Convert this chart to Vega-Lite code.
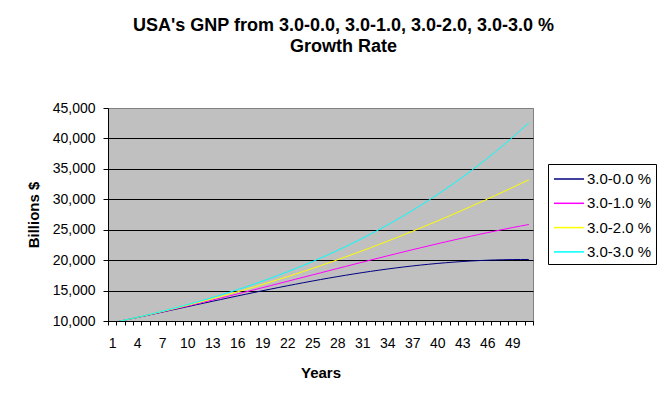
{
  "$schema": "https://vega.github.io/schema/vega-lite/v6.json",
  "autosize": {"type": "none"},
  "width": 425,
  "height": 213,
  "padding": {"left": 108, "top": 108, "right": 125, "bottom": 74},
  "background": "white",
  "title": {
    "text": ["USA's GNP from 3.0-0.0, 3.0-1.0, 3.0-2.0, 3.0-3.0 %", "Growth Rate"],
    "font": "Liberation Sans",
    "fontSize": 18,
    "fontWeight": "bold",
    "color": "black",
    "anchor": "middle",
    "frame": "group",
    "dx": 23,
    "lineHeight": 21.6,
    "offset": 44.5
  },
  "config": {
    "font": "Liberation Sans",
    "view": {"fill": "#C0C0C0", "stroke": "#808080", "strokeWidth": 1}
  },
  "data": {
    "values": [
      {"year": 1, "series": "3.0-0.0 %", "gnp": 9710}, {"year": 2, "series": "3.0-0.0 %", "gnp": 9996}, {"year": 3, "series": "3.0-0.0 %", "gnp": 10283}, {"year": 4, "series": "3.0-0.0 %", "gnp": 10573}, {"year": 5, "series": "3.0-0.0 %", "gnp": 10865}, {"year": 6, "series": "3.0-0.0 %", "gnp": 11159}, {"year": 7, "series": "3.0-0.0 %", "gnp": 11453}, {"year": 8, "series": "3.0-0.0 %", "gnp": 11749}, {"year": 9, "series": "3.0-0.0 %", "gnp": 12045}, {"year": 10, "series": "3.0-0.0 %", "gnp": 12341},
      {"year": 11, "series": "3.0-0.0 %", "gnp": 12637}, {"year": 12, "series": "3.0-0.0 %", "gnp": 12933}, {"year": 13, "series": "3.0-0.0 %", "gnp": 13228}, {"year": 14, "series": "3.0-0.0 %", "gnp": 13522}, {"year": 15, "series": "3.0-0.0 %", "gnp": 13814}, {"year": 16, "series": "3.0-0.0 %", "gnp": 14104}, {"year": 17, "series": "3.0-0.0 %", "gnp": 14392}, {"year": 18, "series": "3.0-0.0 %", "gnp": 14677}, {"year": 19, "series": "3.0-0.0 %", "gnp": 14958}, {"year": 20, "series": "3.0-0.0 %", "gnp": 15237},
      {"year": 21, "series": "3.0-0.0 %", "gnp": 15511}, {"year": 22, "series": "3.0-0.0 %", "gnp": 15781}, {"year": 23, "series": "3.0-0.0 %", "gnp": 16046}, {"year": 24, "series": "3.0-0.0 %", "gnp": 16306}, {"year": 25, "series": "3.0-0.0 %", "gnp": 16560}, {"year": 26, "series": "3.0-0.0 %", "gnp": 16809}, {"year": 27, "series": "3.0-0.0 %", "gnp": 17051}, {"year": 28, "series": "3.0-0.0 %", "gnp": 17286}, {"year": 29, "series": "3.0-0.0 %", "gnp": 17514}, {"year": 30, "series": "3.0-0.0 %", "gnp": 17735},
      {"year": 31, "series": "3.0-0.0 %", "gnp": 17948}, {"year": 32, "series": "3.0-0.0 %", "gnp": 18152}, {"year": 33, "series": "3.0-0.0 %", "gnp": 18348}, {"year": 34, "series": "3.0-0.0 %", "gnp": 18535}, {"year": 35, "series": "3.0-0.0 %", "gnp": 18713}, {"year": 36, "series": "3.0-0.0 %", "gnp": 18882}, {"year": 37, "series": "3.0-0.0 %", "gnp": 19040}, {"year": 38, "series": "3.0-0.0 %", "gnp": 19189}, {"year": 39, "series": "3.0-0.0 %", "gnp": 19327}, {"year": 40, "series": "3.0-0.0 %", "gnp": 19455},
      {"year": 41, "series": "3.0-0.0 %", "gnp": 19571}, {"year": 42, "series": "3.0-0.0 %", "gnp": 19677}, {"year": 43, "series": "3.0-0.0 %", "gnp": 19771}, {"year": 44, "series": "3.0-0.0 %", "gnp": 19854}, {"year": 45, "series": "3.0-0.0 %", "gnp": 19926}, {"year": 46, "series": "3.0-0.0 %", "gnp": 19986}, {"year": 47, "series": "3.0-0.0 %", "gnp": 20034}, {"year": 48, "series": "3.0-0.0 %", "gnp": 20070}, {"year": 49, "series": "3.0-0.0 %", "gnp": 20094}, {"year": 50, "series": "3.0-0.0 %", "gnp": 20106},
      {"year": 51, "series": "3.0-0.0 %", "gnp": 20106},

      {"year": 1, "series": "3.0-1.0 %", "gnp": 9710}, {"year": 2, "series": "3.0-1.0 %", "gnp": 9997}, {"year": 3, "series": "3.0-1.0 %", "gnp": 10289}, {"year": 4, "series": "3.0-1.0 %", "gnp": 10586}, {"year": 5, "series": "3.0-1.0 %", "gnp": 10886}, {"year": 6, "series": "3.0-1.0 %", "gnp": 11191}, {"year": 7, "series": "3.0-1.0 %", "gnp": 11500}, {"year": 8, "series": "3.0-1.0 %", "gnp": 11813}, {"year": 9, "series": "3.0-1.0 %", "gnp": 12129}, {"year": 10, "series": "3.0-1.0 %", "gnp": 12450},
      {"year": 11, "series": "3.0-1.0 %", "gnp": 12773}, {"year": 12, "series": "3.0-1.0 %", "gnp": 13100}, {"year": 13, "series": "3.0-1.0 %", "gnp": 13430}, {"year": 14, "series": "3.0-1.0 %", "gnp": 13763}, {"year": 15, "series": "3.0-1.0 %", "gnp": 14099}, {"year": 16, "series": "3.0-1.0 %", "gnp": 14438}, {"year": 17, "series": "3.0-1.0 %", "gnp": 14778}, {"year": 18, "series": "3.0-1.0 %", "gnp": 15121}, {"year": 19, "series": "3.0-1.0 %", "gnp": 15466}, {"year": 20, "series": "3.0-1.0 %", "gnp": 15812},
      {"year": 21, "series": "3.0-1.0 %", "gnp": 16160}, {"year": 22, "series": "3.0-1.0 %", "gnp": 16509}, {"year": 23, "series": "3.0-1.0 %", "gnp": 16859}, {"year": 24, "series": "3.0-1.0 %", "gnp": 17210}, {"year": 25, "series": "3.0-1.0 %", "gnp": 17561}, {"year": 26, "series": "3.0-1.0 %", "gnp": 17912}, {"year": 27, "series": "3.0-1.0 %", "gnp": 18264}, {"year": 28, "series": "3.0-1.0 %", "gnp": 18614}, {"year": 29, "series": "3.0-1.0 %", "gnp": 18964}, {"year": 30, "series": "3.0-1.0 %", "gnp": 19313},
      {"year": 31, "series": "3.0-1.0 %", "gnp": 19661}, {"year": 32, "series": "3.0-1.0 %", "gnp": 20007}, {"year": 33, "series": "3.0-1.0 %", "gnp": 20351}, {"year": 34, "series": "3.0-1.0 %", "gnp": 20693}, {"year": 35, "series": "3.0-1.0 %", "gnp": 21032}, {"year": 36, "series": "3.0-1.0 %", "gnp": 21369}, {"year": 37, "series": "3.0-1.0 %", "gnp": 21702}, {"year": 38, "series": "3.0-1.0 %", "gnp": 22032}, {"year": 39, "series": "3.0-1.0 %", "gnp": 22358}, {"year": 40, "series": "3.0-1.0 %", "gnp": 22680},
      {"year": 41, "series": "3.0-1.0 %", "gnp": 22997}, {"year": 42, "series": "3.0-1.0 %", "gnp": 23310}, {"year": 43, "series": "3.0-1.0 %", "gnp": 23618}, {"year": 44, "series": "3.0-1.0 %", "gnp": 23920}, {"year": 45, "series": "3.0-1.0 %", "gnp": 24217}, {"year": 46, "series": "3.0-1.0 %", "gnp": 24507}, {"year": 47, "series": "3.0-1.0 %", "gnp": 24792}, {"year": 48, "series": "3.0-1.0 %", "gnp": 25069}, {"year": 49, "series": "3.0-1.0 %", "gnp": 25340}, {"year": 50, "series": "3.0-1.0 %", "gnp": 25604},
      {"year": 51, "series": "3.0-1.0 %", "gnp": 25860},

      {"year": 1, "series": "3.0-2.0 %", "gnp": 9710}, {"year": 2, "series": "3.0-2.0 %", "gnp": 9999}, {"year": 3, "series": "3.0-2.0 %", "gnp": 10295}, {"year": 4, "series": "3.0-2.0 %", "gnp": 10598}, {"year": 5, "series": "3.0-2.0 %", "gnp": 10908}, {"year": 6, "series": "3.0-2.0 %", "gnp": 11224}, {"year": 7, "series": "3.0-2.0 %", "gnp": 11547}, {"year": 8, "series": "3.0-2.0 %", "gnp": 11877}, {"year": 9, "series": "3.0-2.0 %", "gnp": 12215}, {"year": 10, "series": "3.0-2.0 %", "gnp": 12559},
      {"year": 11, "series": "3.0-2.0 %", "gnp": 12911}, {"year": 12, "series": "3.0-2.0 %", "gnp": 13270}, {"year": 13, "series": "3.0-2.0 %", "gnp": 13636}, {"year": 14, "series": "3.0-2.0 %", "gnp": 14009}, {"year": 15, "series": "3.0-2.0 %", "gnp": 14391}, {"year": 16, "series": "3.0-2.0 %", "gnp": 14779}, {"year": 17, "series": "3.0-2.0 %", "gnp": 15175}, {"year": 18, "series": "3.0-2.0 %", "gnp": 15579}, {"year": 19, "series": "3.0-2.0 %", "gnp": 15990}, {"year": 20, "series": "3.0-2.0 %", "gnp": 16409},
      {"year": 21, "series": "3.0-2.0 %", "gnp": 16836}, {"year": 22, "series": "3.0-2.0 %", "gnp": 17270}, {"year": 23, "series": "3.0-2.0 %", "gnp": 17712}, {"year": 24, "series": "3.0-2.0 %", "gnp": 18162}, {"year": 25, "series": "3.0-2.0 %", "gnp": 18620}, {"year": 26, "series": "3.0-2.0 %", "gnp": 19085}, {"year": 27, "series": "3.0-2.0 %", "gnp": 19559}, {"year": 28, "series": "3.0-2.0 %", "gnp": 20040}, {"year": 29, "series": "3.0-2.0 %", "gnp": 20529}, {"year": 30, "series": "3.0-2.0 %", "gnp": 21025},
      {"year": 31, "series": "3.0-2.0 %", "gnp": 21530}, {"year": 32, "series": "3.0-2.0 %", "gnp": 22042}, {"year": 33, "series": "3.0-2.0 %", "gnp": 22563}, {"year": 34, "series": "3.0-2.0 %", "gnp": 23091}, {"year": 35, "series": "3.0-2.0 %", "gnp": 23626}, {"year": 36, "series": "3.0-2.0 %", "gnp": 24170}, {"year": 37, "series": "3.0-2.0 %", "gnp": 24721}, {"year": 38, "series": "3.0-2.0 %", "gnp": 25280}, {"year": 39, "series": "3.0-2.0 %", "gnp": 25846}, {"year": 40, "series": "3.0-2.0 %", "gnp": 26420},
      {"year": 41, "series": "3.0-2.0 %", "gnp": 27001}, {"year": 42, "series": "3.0-2.0 %", "gnp": 27589}, {"year": 43, "series": "3.0-2.0 %", "gnp": 28185}, {"year": 44, "series": "3.0-2.0 %", "gnp": 28789}, {"year": 45, "series": "3.0-2.0 %", "gnp": 29399}, {"year": 46, "series": "3.0-2.0 %", "gnp": 30016}, {"year": 47, "series": "3.0-2.0 %", "gnp": 30641}, {"year": 48, "series": "3.0-2.0 %", "gnp": 31272}, {"year": 49, "series": "3.0-2.0 %", "gnp": 31910}, {"year": 50, "series": "3.0-2.0 %", "gnp": 32554},
      {"year": 51, "series": "3.0-2.0 %", "gnp": 33205},

      {"year": 1, "series": "3.0-3.0 %", "gnp": 9710}, {"year": 2, "series": "3.0-3.0 %", "gnp": 10001}, {"year": 3, "series": "3.0-3.0 %", "gnp": 10301}, {"year": 4, "series": "3.0-3.0 %", "gnp": 10610}, {"year": 5, "series": "3.0-3.0 %", "gnp": 10929}, {"year": 6, "series": "3.0-3.0 %", "gnp": 11257}, {"year": 7, "series": "3.0-3.0 %", "gnp": 11594}, {"year": 8, "series": "3.0-3.0 %", "gnp": 11942}, {"year": 9, "series": "3.0-3.0 %", "gnp": 12300}, {"year": 10, "series": "3.0-3.0 %", "gnp": 12669},
      {"year": 11, "series": "3.0-3.0 %", "gnp": 13049}, {"year": 12, "series": "3.0-3.0 %", "gnp": 13441}, {"year": 13, "series": "3.0-3.0 %", "gnp": 13844}, {"year": 14, "series": "3.0-3.0 %", "gnp": 14259}, {"year": 15, "series": "3.0-3.0 %", "gnp": 14687}, {"year": 16, "series": "3.0-3.0 %", "gnp": 15128}, {"year": 17, "series": "3.0-3.0 %", "gnp": 15582}, {"year": 18, "series": "3.0-3.0 %", "gnp": 16049}, {"year": 19, "series": "3.0-3.0 %", "gnp": 16531}, {"year": 20, "series": "3.0-3.0 %", "gnp": 17027},
      {"year": 21, "series": "3.0-3.0 %", "gnp": 17537}, {"year": 22, "series": "3.0-3.0 %", "gnp": 18063}, {"year": 23, "series": "3.0-3.0 %", "gnp": 18605}, {"year": 24, "series": "3.0-3.0 %", "gnp": 19164}, {"year": 25, "series": "3.0-3.0 %", "gnp": 19738}, {"year": 26, "series": "3.0-3.0 %", "gnp": 20331}, {"year": 27, "series": "3.0-3.0 %", "gnp": 20940}, {"year": 28, "series": "3.0-3.0 %", "gnp": 21569}, {"year": 29, "series": "3.0-3.0 %", "gnp": 22216}, {"year": 30, "series": "3.0-3.0 %", "gnp": 22882},
      {"year": 31, "series": "3.0-3.0 %", "gnp": 23569}, {"year": 32, "series": "3.0-3.0 %", "gnp": 24276}, {"year": 33, "series": "3.0-3.0 %", "gnp": 25004}, {"year": 34, "series": "3.0-3.0 %", "gnp": 25754}, {"year": 35, "series": "3.0-3.0 %", "gnp": 26527}, {"year": 36, "series": "3.0-3.0 %", "gnp": 27323}, {"year": 37, "series": "3.0-3.0 %", "gnp": 28142}, {"year": 38, "series": "3.0-3.0 %", "gnp": 28987}, {"year": 39, "series": "3.0-3.0 %", "gnp": 29856}, {"year": 40, "series": "3.0-3.0 %", "gnp": 30752},
      {"year": 41, "series": "3.0-3.0 %", "gnp": 31674}, {"year": 42, "series": "3.0-3.0 %", "gnp": 32625}, {"year": 43, "series": "3.0-3.0 %", "gnp": 33603}, {"year": 44, "series": "3.0-3.0 %", "gnp": 34612}, {"year": 45, "series": "3.0-3.0 %", "gnp": 35650}, {"year": 46, "series": "3.0-3.0 %", "gnp": 36719}, {"year": 47, "series": "3.0-3.0 %", "gnp": 37821}, {"year": 48, "series": "3.0-3.0 %", "gnp": 38955}, {"year": 49, "series": "3.0-3.0 %", "gnp": 40124}, {"year": 50, "series": "3.0-3.0 %", "gnp": 41328},
      {"year": 51, "series": "3.0-3.0 %", "gnp": 42568}
    ]
  },
  "mark": {"type": "line", "clip": true, "strokeWidth": 1, "interpolate": "linear"},
  "encoding": {
    "x": {
      "field": "year",
      "type": "quantitative",
      "scale": {"domain": [0.5, 51.5], "nice": false, "zero": false},
      "axis": {
        "title": "Years",
        "titleFont": "Liberation Sans",
        "titleFontSize": 15,
        "titleFontWeight": "bold",
        "titleColor": "black",
        "titleBaseline": "alphabetic",
        "titleY": 56,
        "values": [0.5, 1.5, 2.5, 3.5, 4.5, 5.5, 6.5, 7.5, 8.5, 9.5, 10.5, 11.5, 12.5, 13.5, 14.5, 15.5, 16.5, 17.5, 18.5, 19.5, 20.5, 21.5, 22.5, 23.5, 24.5, 25.5, 26.5, 27.5, 28.5, 29.5, 30.5, 31.5, 32.5, 33.5, 34.5, 35.5, 36.5, 37.5, 38.5, 39.5, 40.5, 41.5, 42.5, 43.5, 44.5, 45.5, 46.5, 47.5, 48.5, 49.5, 50.5, 51.5],
        "labelExpr": "(datum.value < 50 && (datum.value - 0.5) % 3 == 0) ? format(datum.value + 0.5, 'd') : ''",
        "labelOffset": 4.17,
        "labelOverlap": false,
        "labelBound": false,
        "labelFlush": false,
        "labelFont": "Liberation Sans",
        "labelFontSize": 14,
        "labelColor": "black",
        "labelPadding": 11,
        "tickSize": 4,
        "tickColor": "black",
        "domainColor": "black",
        "grid": false
      }
    },
    "y": {
      "field": "gnp",
      "type": "quantitative",
      "scale": {"domain": [10000, 45000], "nice": false, "zero": false},
      "axis": {
        "title": "Billions $",
        "titleFont": "Liberation Sans",
        "titleFontSize": 15,
        "titleFontWeight": "bold",
        "titleColor": "black",
        "titleAngle": -90,
        "titleBaseline": "alphabetic",
        "titleAlign": "center",
        "titleX": -70,
        "titleY": 106.5,
        "values": [10000, 15000, 20000, 25000, 30000, 35000, 40000, 45000],
        "format": ",.0f",
        "labelFont": "Liberation Sans",
        "labelFontSize": 14,
        "labelColor": "black",
        "labelPadding": 8,
        "tickSize": 5,
        "tickColor": "black",
        "domainColor": "black",
        "grid": true,
        "gridColor": {"condition": {"test": "datum.value == 45000", "value": "#808080"}, "value": "black"},
        "gridOpacity": 1,
        "gridWidth": 1
      }
    },
    "color": {
      "field": "series",
      "type": "nominal",
      "scale": {
        "domain": ["3.0-0.0 %", "3.0-1.0 %", "3.0-2.0 %", "3.0-3.0 %"],
        "range": ["#000080", "#FF00FF", "#FFFF00", "#00FFFF"]
      },
      "legend": {
        "title": null,
        "orient": "none",
        "legendX": 440,
        "legendY": 56,
        "fillColor": "white",
        "strokeColor": "black",
        "padding": 4,
        "symbolType": "M-1.5,0H1.5",
        "symbolSize": 400,
        "symbolStrokeWidth": 1.5,
        "symbolOffset": 6,
        "labelOffset": 7,
        "rowPadding": 5.3,
        "labelFont": "Liberation Sans",
        "labelFontSize": 15,
        "labelColor": "black"
      }
    }
  }
}
